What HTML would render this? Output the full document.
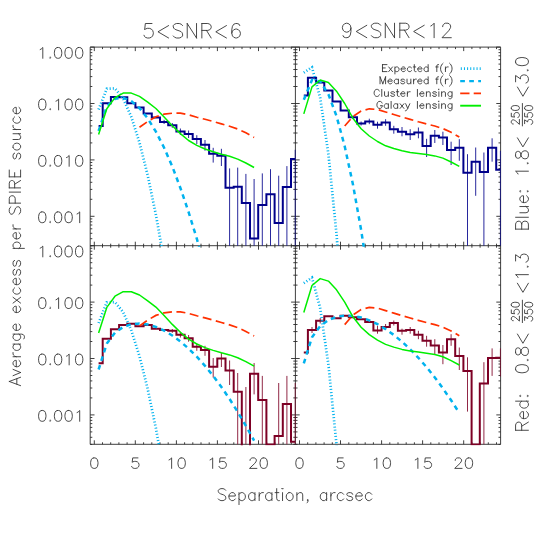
<!DOCTYPE html>
<html><head><meta charset="utf-8"><title>Average excess per SPIRE source</title>
<style>
html,body{margin:0;padding:0;background:#ffffff;}
body{width:540px;height:540px;overflow:hidden;font-family:"Liberation Sans",sans-serif;}
svg{display:block;}
</style></head><body>
<svg width="540" height="540" viewBox="0 0 540 540">
<defs>
<clipPath id="cTL"><rect x="90.2" y="47.1" width="205.8" height="199.6"/></clipPath>
<clipPath id="cTR"><rect x="295.4" y="47.1" width="205.8" height="199.6"/></clipPath>
<clipPath id="cBL"><rect x="90.2" y="245.7" width="205.8" height="199.6"/></clipPath>
<clipPath id="cBR"><rect x="295.4" y="245.7" width="205.8" height="199.6"/></clipPath>
</defs>
<path d="M90.2 47.1H500.6V444.3H90.2ZM295.4 47.1V444.3M90.2 245.7H500.6M94.3 47.1v4.0M94.3 241.7v8.0M94.3 444.3v-4.0M102.5 47.1v2.0M102.5 243.7v4.0M102.5 444.3v-2.0M110.7 47.1v2.0M110.7 243.7v4.0M110.7 444.3v-2.0M118.9 47.1v2.0M118.9 243.7v4.0M118.9 444.3v-2.0M127.1 47.1v2.0M127.1 243.7v4.0M127.1 444.3v-2.0M135.3 47.1v4.0M135.3 241.7v8.0M135.3 444.3v-4.0M143.6 47.1v2.0M143.6 243.7v4.0M143.6 444.3v-2.0M151.8 47.1v2.0M151.8 243.7v4.0M151.8 444.3v-2.0M160.0 47.1v2.0M160.0 243.7v4.0M160.0 444.3v-2.0M168.2 47.1v2.0M168.2 243.7v4.0M168.2 444.3v-2.0M176.4 47.1v4.0M176.4 241.7v8.0M176.4 444.3v-4.0M184.6 47.1v2.0M184.6 243.7v4.0M184.6 444.3v-2.0M192.8 47.1v2.0M192.8 243.7v4.0M192.8 444.3v-2.0M201.0 47.1v2.0M201.0 243.7v4.0M201.0 444.3v-2.0M209.2 47.1v2.0M209.2 243.7v4.0M209.2 444.3v-2.0M217.4 47.1v4.0M217.4 241.7v8.0M217.4 444.3v-4.0M225.6 47.1v2.0M225.6 243.7v4.0M225.6 444.3v-2.0M233.8 47.1v2.0M233.8 243.7v4.0M233.8 444.3v-2.0M242.0 47.1v2.0M242.0 243.7v4.0M242.0 444.3v-2.0M250.3 47.1v2.0M250.3 243.7v4.0M250.3 444.3v-2.0M258.5 47.1v4.0M258.5 241.7v8.0M258.5 444.3v-4.0M266.7 47.1v2.0M266.7 243.7v4.0M266.7 444.3v-2.0M274.9 47.1v2.0M274.9 243.7v4.0M274.9 444.3v-2.0M283.1 47.1v2.0M283.1 243.7v4.0M283.1 444.3v-2.0M291.3 47.1v2.0M291.3 243.7v4.0M291.3 444.3v-2.0M299.5 47.1v4.0M299.5 241.7v8.0M299.5 444.3v-4.0M307.7 47.1v2.0M307.7 243.7v4.0M307.7 444.3v-2.0M315.9 47.1v2.0M315.9 243.7v4.0M315.9 444.3v-2.0M324.1 47.1v2.0M324.1 243.7v4.0M324.1 444.3v-2.0M332.3 47.1v2.0M332.3 243.7v4.0M332.3 444.3v-2.0M340.5 47.1v4.0M340.5 241.7v8.0M340.5 444.3v-4.0M348.8 47.1v2.0M348.8 243.7v4.0M348.8 444.3v-2.0M357.0 47.1v2.0M357.0 243.7v4.0M357.0 444.3v-2.0M365.2 47.1v2.0M365.2 243.7v4.0M365.2 444.3v-2.0M373.4 47.1v2.0M373.4 243.7v4.0M373.4 444.3v-2.0M381.6 47.1v4.0M381.6 241.7v8.0M381.6 444.3v-4.0M389.8 47.1v2.0M389.8 243.7v4.0M389.8 444.3v-2.0M398.0 47.1v2.0M398.0 243.7v4.0M398.0 444.3v-2.0M406.2 47.1v2.0M406.2 243.7v4.0M406.2 444.3v-2.0M414.4 47.1v2.0M414.4 243.7v4.0M414.4 444.3v-2.0M422.6 47.1v4.0M422.6 241.7v8.0M422.6 444.3v-4.0M430.8 47.1v2.0M430.8 243.7v4.0M430.8 444.3v-2.0M439.0 47.1v2.0M439.0 243.7v4.0M439.0 444.3v-2.0M447.2 47.1v2.0M447.2 243.7v4.0M447.2 444.3v-2.0M455.5 47.1v2.0M455.5 243.7v4.0M455.5 444.3v-2.0M463.7 47.1v4.0M463.7 241.7v8.0M463.7 444.3v-4.0M471.9 47.1v2.0M471.9 243.7v4.0M471.9 444.3v-2.0M480.1 47.1v2.0M480.1 243.7v4.0M480.1 444.3v-2.0M488.3 47.1v2.0M488.3 243.7v4.0M488.3 444.3v-2.0M496.5 47.1v2.0M496.5 243.7v4.0M496.5 444.3v-2.0M90.2 47.1h4.3M291.1 47.1h8.6M500.6 47.1h-4.3M90.2 103.5h4.3M291.1 103.5h8.6M500.6 103.5h-4.3M90.2 86.5h2.1M293.3 86.5h4.2M500.6 86.5h-2.1M90.2 76.6h2.1M293.3 76.6h4.2M500.6 76.6h-2.1M90.2 69.5h2.1M293.3 69.5h4.2M500.6 69.5h-2.1M90.2 64.1h2.1M293.3 64.1h4.2M500.6 64.1h-2.1M90.2 59.6h2.1M293.3 59.6h4.2M500.6 59.6h-2.1M90.2 55.8h2.1M293.3 55.8h4.2M500.6 55.8h-2.1M90.2 52.6h2.1M293.3 52.6h4.2M500.6 52.6h-2.1M90.2 49.7h2.1M293.3 49.7h4.2M500.6 49.7h-2.1M90.2 159.9h4.3M291.1 159.9h8.6M500.6 159.9h-4.3M90.2 142.9h2.1M293.3 142.9h4.2M500.6 142.9h-2.1M90.2 133.0h2.1M293.3 133.0h4.2M500.6 133.0h-2.1M90.2 125.9h2.1M293.3 125.9h4.2M500.6 125.9h-2.1M90.2 120.5h2.1M293.3 120.5h4.2M500.6 120.5h-2.1M90.2 116.0h2.1M293.3 116.0h4.2M500.6 116.0h-2.1M90.2 112.2h2.1M293.3 112.2h4.2M500.6 112.2h-2.1M90.2 109.0h2.1M293.3 109.0h4.2M500.6 109.0h-2.1M90.2 106.1h2.1M293.3 106.1h4.2M500.6 106.1h-2.1M90.2 216.3h4.3M291.1 216.3h8.6M500.6 216.3h-4.3M90.2 199.3h2.1M293.3 199.3h4.2M500.6 199.3h-2.1M90.2 189.4h2.1M293.3 189.4h4.2M500.6 189.4h-2.1M90.2 182.3h2.1M293.3 182.3h4.2M500.6 182.3h-2.1M90.2 176.9h2.1M293.3 176.9h4.2M500.6 176.9h-2.1M90.2 172.4h2.1M293.3 172.4h4.2M500.6 172.4h-2.1M90.2 168.6h2.1M293.3 168.6h4.2M500.6 168.6h-2.1M90.2 165.4h2.1M293.3 165.4h4.2M500.6 165.4h-2.1M90.2 162.5h2.1M293.3 162.5h4.2M500.6 162.5h-2.1M90.2 245.8h2.1M293.3 245.8h4.2M500.6 245.8h-2.1M90.2 238.7h2.1M293.3 238.7h4.2M500.6 238.7h-2.1M90.2 233.3h2.1M293.3 233.3h4.2M500.6 233.3h-2.1M90.2 228.8h2.1M293.3 228.8h4.2M500.6 228.8h-2.1M90.2 225.0h2.1M293.3 225.0h4.2M500.6 225.0h-2.1M90.2 221.8h2.1M293.3 221.8h4.2M500.6 221.8h-2.1M90.2 218.9h2.1M293.3 218.9h4.2M500.6 218.9h-2.1M90.2 245.7h4.3M291.1 245.7h8.6M500.6 245.7h-4.3M90.2 302.1h4.3M291.1 302.1h8.6M500.6 302.1h-4.3M90.2 285.1h2.1M293.3 285.1h4.2M500.6 285.1h-2.1M90.2 275.2h2.1M293.3 275.2h4.2M500.6 275.2h-2.1M90.2 268.1h2.1M293.3 268.1h4.2M500.6 268.1h-2.1M90.2 262.7h2.1M293.3 262.7h4.2M500.6 262.7h-2.1M90.2 258.2h2.1M293.3 258.2h4.2M500.6 258.2h-2.1M90.2 254.4h2.1M293.3 254.4h4.2M500.6 254.4h-2.1M90.2 251.2h2.1M293.3 251.2h4.2M500.6 251.2h-2.1M90.2 248.3h2.1M293.3 248.3h4.2M500.6 248.3h-2.1M90.2 358.5h4.3M291.1 358.5h8.6M500.6 358.5h-4.3M90.2 341.5h2.1M293.3 341.5h4.2M500.6 341.5h-2.1M90.2 331.6h2.1M293.3 331.6h4.2M500.6 331.6h-2.1M90.2 324.5h2.1M293.3 324.5h4.2M500.6 324.5h-2.1M90.2 319.1h2.1M293.3 319.1h4.2M500.6 319.1h-2.1M90.2 314.6h2.1M293.3 314.6h4.2M500.6 314.6h-2.1M90.2 310.8h2.1M293.3 310.8h4.2M500.6 310.8h-2.1M90.2 307.6h2.1M293.3 307.6h4.2M500.6 307.6h-2.1M90.2 304.7h2.1M293.3 304.7h4.2M500.6 304.7h-2.1M90.2 414.9h4.3M291.1 414.9h8.6M500.6 414.9h-4.3M90.2 397.9h2.1M293.3 397.9h4.2M500.6 397.9h-2.1M90.2 388.0h2.1M293.3 388.0h4.2M500.6 388.0h-2.1M90.2 380.9h2.1M293.3 380.9h4.2M500.6 380.9h-2.1M90.2 375.5h2.1M293.3 375.5h4.2M500.6 375.5h-2.1M90.2 371.0h2.1M293.3 371.0h4.2M500.6 371.0h-2.1M90.2 367.2h2.1M293.3 367.2h4.2M500.6 367.2h-2.1M90.2 364.0h2.1M293.3 364.0h4.2M500.6 364.0h-2.1M90.2 361.1h2.1M293.3 361.1h4.2M500.6 361.1h-2.1M90.2 444.4h2.1M293.3 444.4h4.2M500.6 444.4h-2.1M90.2 437.3h2.1M293.3 437.3h4.2M500.6 437.3h-2.1M90.2 431.9h2.1M293.3 431.9h4.2M500.6 431.9h-2.1M90.2 427.4h2.1M293.3 427.4h4.2M500.6 427.4h-2.1M90.2 423.6h2.1M293.3 423.6h4.2M500.6 423.6h-2.1M90.2 420.4h2.1M293.3 420.4h4.2M500.6 420.4h-2.1M90.2 417.5h2.1M293.3 417.5h4.2M500.6 417.5h-2.1" stroke="#2a2a2a" stroke-width="0.9" fill="none"/>
<g clip-path="url(#cTL)" fill="none">
<path d="M164.1 119.8V124.0M172.3 123.0V127.8M180.4 128.5V135.0M188.6 130.5V138.0M196.8 135.2V144.0M205.0 140.0V150.7M213.2 147.8V162.6M221.4 148.8V166.0M229.6 168.4V245.7M237.7 167.6V245.7M245.9 173.9V245.7M254.1 179.0V245.7M262.3 173.4V245.7M270.5 169.2V245.7M278.7 175.7V245.7M286.9 166.1V245.7" stroke="#00008b" stroke-width="0.85" opacity="1"/>
<path d="M98.6 126.0 L102.7 126.0 L102.7 103.3 L110.9 103.3 L110.9 97.1 L119.1 97.1 L119.1 97.3 L127.3 97.3 L127.3 103.3 L135.4 103.3 L135.4 107.5 L143.6 107.5 L143.6 113.4 L151.8 113.4 L151.8 117.4 L160.0 117.4 L160.0 121.9 L168.2 121.9 L168.2 125.3 L176.4 125.3 L176.4 131.5 L184.6 131.5 L184.6 134.1 L192.7 134.1 L192.7 138.9 L200.9 138.9 L200.9 144.8 L209.1 144.8 L209.1 153.7 L217.3 153.7 L217.3 155.7 L225.5 155.7 L225.5 187.8 L233.7 187.8 L233.7 186.7 L241.8 186.7 L241.8 202.9 L250.0 202.9 L250.0 238.6 L258.2 238.6 L258.2 204.9 L266.4 204.9 L266.4 194.3 L274.6 194.3 L274.6 223.1 L282.8 223.1 L282.8 187.0 L291.0 187.0 L291.0 159.1 L295.0 159.1" stroke="#00008b" stroke-width="2.0" stroke-linejoin="miter"/>
<path d="M98.6 109.5 L106.8 88.7 L115.0 88.4 L123.2 98.6 L131.3 116.9 L139.5 142.6 L147.7 175.3 L155.9 214.7 L164.1 260.6 L172.3 313.0" stroke="#00b2ee" stroke-width="2.7" stroke-dasharray="1.05 2.1"/>
<path d="M98.6 131.0 L106.8 106.5 L115.0 98.8 L123.2 97.7 L131.3 101.1 L139.5 108.2 L147.7 118.4 L155.9 131.7 L164.1 147.7 L172.3 166.5 L180.4 188.0 L188.6 212.1 L196.8 238.7 L205.0 267.9 L213.2 299.7 L221.4 333.9" stroke="#00b2ee" stroke-width="2.5" stroke-dasharray="4.7 4.3"/>
<path d="M139.5 127.3 L147.7 121.5 L155.9 116.8 L164.1 114.2 L172.3 113.2 L180.4 113.2 L188.6 114.8 L196.8 117.2 L205.0 119.3 L213.2 121.5 L221.4 123.9 L229.6 126.3 L237.7 129.0 L245.9 132.8 L254.1 137.4" stroke="#ff3000" stroke-width="1.7" stroke-dasharray="9 4.5"/>
<path d="M98.6 134.4 L106.8 108.8 L115.0 97.6 L123.2 93.1 L131.3 93.1 L139.5 96.4 L147.7 102.2 L155.9 108.5 L164.1 117.0 L172.3 125.8 L180.4 133.6 L188.6 140.5 L196.8 145.4 L205.0 149.0 L213.2 151.8 L221.4 154.2 L229.6 156.3 L237.7 159.1 L245.9 163.0 L254.1 167.5" stroke="#00ee00" stroke-width="1.5" stroke-linejoin="round"/>
</g>
<g clip-path="url(#cTR)" fill="none">
<path d="M352.9 115.5V119.0M361.1 121.5V125.5M369.3 118.7V124.2M377.5 121.7V128.7M385.6 119.2V125.8M393.8 125.8V133.7M402.0 127.0V136.3M410.2 129.2V140.0M418.4 127.5V138.3M426.6 138.8V157.0M434.8 130.0V143.0M442.9 131.7V145.0M451.1 141.7V165.0M459.3 139.2V160.8M467.5 154.2V245.7M475.7 147.5V195.8M483.9 152.5V245.7M492.1 138.3V161.7" stroke="#00008b" stroke-width="0.85" opacity="1"/>
<path d="M303.8 95.6 L307.9 95.6 L307.9 77.8 L316.1 77.8 L316.1 82.6 L324.3 82.6 L324.3 90.5 L332.5 90.5 L332.5 101.4 L340.6 101.4 L340.6 110.5 L348.8 110.5 L348.8 117.2 L357.0 117.2 L357.0 123.5 L365.2 123.5 L365.2 121.4 L373.4 121.4 L373.4 124.7 L381.6 124.7 L381.6 122.5 L389.8 122.5 L389.8 129.2 L397.9 129.2 L397.9 131.7 L406.1 131.7 L406.1 134.2 L414.3 134.2 L414.3 132.5 L422.5 132.5 L422.5 146.0 L430.7 146.0 L430.7 135.8 L438.9 135.8 L438.9 137.5 L447.0 137.5 L447.0 150.0 L455.2 150.0 L455.2 147.8 L463.4 147.8 L463.4 172.8 L471.6 172.8 L471.6 161.7 L479.8 161.7 L479.8 172.0 L488.0 172.0 L488.0 147.8 L496.2 147.8 L496.2 169.7 L500.2 169.7" stroke="#00008b" stroke-width="2.0" stroke-linejoin="miter"/>
<path d="M303.8 72.7 L312.0 67.3 L320.2 97.9 L328.4 154.1 L336.5 234.0 L344.7 336.7" stroke="#00b2ee" stroke-width="2.7" stroke-dasharray="1.05 2.1"/>
<path d="M303.8 99.8 L312.0 79.9 L320.2 81.4 L328.4 94.2 L336.5 116.1 L344.7 146.2 L352.9 184.2 L361.1 229.8 L369.3 282.8 L377.5 343.2" stroke="#00b2ee" stroke-width="2.5" stroke-dasharray="4.7 4.3"/>
<path d="M344.7 126.0 L352.9 116.5 L361.1 111.0 L369.3 108.8 L377.5 109.5 L385.6 112.0 L393.8 114.5 L402.0 117.0 L410.2 119.4 L418.4 121.8 L426.6 124.0 L434.8 126.0 L442.9 128.6 L451.1 132.3 L459.3 137.1" stroke="#ff3000" stroke-width="1.7" stroke-dasharray="9 4.5"/>
<path d="M303.8 113.9 L312.0 86.9 L320.2 80.0 L328.4 82.5 L336.5 91.2 L344.7 103.5 L352.9 118.2 L361.1 128.7 L369.3 136.0 L377.5 141.5 L385.6 145.8 L393.8 148.5 L402.0 150.8 L410.2 152.4 L418.4 153.5 L426.6 154.6 L434.8 155.9 L442.9 158.1 L451.1 162.0 L459.3 166.4" stroke="#00ee00" stroke-width="1.5" stroke-linejoin="round"/>
</g>
<g clip-path="url(#cBL)" fill="none">
<path d="M172.3 329.0V332.8M180.4 331.7V337.5M188.6 335.0V341.7M196.8 343.3V350.8M205.0 345.8V355.8M213.2 358.0V377.6M221.4 353.0V367.0M229.6 360.5V385.0M237.7 373.0V444.3M245.9 387.0V444.3M254.1 363.0V394.4M262.3 375.9V444.3M278.7 383.0V444.3M286.9 375.9V444.3" stroke="#7d0025" stroke-width="0.85" opacity="1"/>
<path d="M98.6 363.3 L102.7 363.3 L102.7 338.8 L110.9 338.8 L110.9 329.2 L119.1 329.2 L119.1 325.0 L127.3 325.0 L127.3 323.7 L135.4 323.7 L135.4 326.2 L143.6 326.2 L143.6 325.0 L151.8 325.0 L151.8 328.8 L160.0 328.8 L160.0 330.0 L168.2 330.0 L168.2 330.8 L176.4 330.8 L176.4 334.7 L184.6 334.7 L184.6 338.3 L192.7 338.3 L192.7 346.7 L200.9 346.7 L200.9 350.0 L209.1 350.0 L209.1 366.7 L217.3 366.7 L217.3 358.6 L225.5 358.6 L225.5 370.4 L233.7 370.4 L233.7 391.7 L241.8 391.7 L241.8 452.0 L250.0 452.0 L250.0 373.7 L258.2 373.7 L258.2 400.0 L266.4 400.0 L266.4 444.4 L274.6 444.4 L274.6 436.1 L282.8 436.1 L282.8 404.1 L291.0 404.1 L291.0 441.7 L295.0 441.7" stroke="#7d0025" stroke-width="2.0" stroke-linejoin="miter"/>
<path d="M98.6 323.1 L106.8 302.3 L115.0 302.1 L123.2 312.2 L131.3 330.5 L139.5 356.3 L147.7 388.9 L155.9 428.3 L164.1 474.2 L172.3 526.6" stroke="#00b2ee" stroke-width="2.7" stroke-dasharray="1.05 2.1"/>
<path d="M98.6 369.5 L106.8 343.5 L115.0 332.7 L123.2 327.0 L131.3 324.2 L139.5 323.5 L147.7 324.5 L155.9 326.9 L164.1 330.6 L172.3 335.5 L180.4 341.5 L188.6 348.6 L196.8 356.7 L205.0 365.8 L213.2 375.9 L221.4 387.0 L229.6 399.0 L237.7 411.9 L245.9 425.8 L254.1 440.6" stroke="#00b2ee" stroke-width="2.5" stroke-dasharray="4.7 4.3"/>
<path d="M139.5 325.9 L147.7 320.1 L155.9 315.4 L164.1 312.8 L172.3 311.8 L180.4 311.8 L188.6 313.4 L196.8 315.8 L205.0 317.9 L213.2 320.1 L221.4 322.5 L229.6 324.9 L237.7 327.6 L245.9 331.4 L254.1 336.0" stroke="#ff3000" stroke-width="1.7" stroke-dasharray="9 4.5"/>
<path d="M98.6 333.0 L106.8 307.4 L115.0 296.2 L123.2 291.7 L131.3 291.7 L139.5 295.0 L147.7 300.8 L155.9 307.1 L164.1 315.6 L172.3 324.4 L180.4 332.2 L188.6 339.1 L196.8 344.0 L205.0 347.6 L213.2 350.4 L221.4 352.8 L229.6 354.9 L237.7 357.7 L245.9 361.6 L254.1 366.1" stroke="#00ee00" stroke-width="1.5" stroke-linejoin="round"/>
</g>
<g clip-path="url(#cBR)" fill="none">
<path d="M312.0 327.0V333.0M320.2 318.0V323.5M377.5 325.8V333.7M385.6 324.0V330.0M393.8 320.5V325.5M402.0 328.7V334.7M410.2 327.0V333.7M418.4 330.8V339.2M426.6 335.8V346.7M434.8 339.2V354.2M442.9 345.0V364.2M451.1 334.2V345.8M459.3 347.5V370.0M467.5 357.3V411.6M483.9 362.2V444.3M492.1 348.4V375.9" stroke="#7d0025" stroke-width="0.85" opacity="1"/>
<path d="M303.8 352.5 L307.9 352.5 L307.9 330.0 L316.1 330.0 L316.1 320.8 L324.3 320.8 L324.3 316.2 L332.5 316.2 L332.5 318.3 L340.6 318.3 L340.6 315.8 L348.8 315.8 L348.8 317.2 L357.0 317.2 L357.0 319.2 L365.2 319.2 L365.2 322.0 L373.4 322.0 L373.4 330.5 L381.6 330.5 L381.6 327.0 L389.8 327.0 L389.8 323.0 L397.9 323.0 L397.9 330.8 L406.1 330.8 L406.1 330.0 L414.3 330.0 L414.3 334.7 L422.5 334.7 L422.5 340.8 L430.7 340.8 L430.7 345.5 L438.9 345.5 L438.9 352.5 L447.0 352.5 L447.0 339.2 L455.2 339.2 L455.2 356.0 L463.4 356.0 L463.4 371.1 L471.6 371.1 L471.6 444.4 L479.8 444.4 L479.8 383.4 L488.0 383.4 L488.0 358.1 L496.2 358.1 L496.2 357.8 L500.2 357.8" stroke="#7d0025" stroke-width="2.0" stroke-linejoin="miter"/>
<path d="M303.8 283.1 L312.0 277.7 L320.2 308.2 L328.4 364.5 L336.5 444.4 L344.7 547.0" stroke="#00b2ee" stroke-width="2.7" stroke-dasharray="1.05 2.1"/>
<path d="M303.8 363.3 L312.0 337.2 L320.2 326.1 L328.4 320.1 L336.5 316.8 L344.7 315.6 L352.9 315.9 L361.1 317.5 L369.3 320.3 L377.5 324.2 L385.6 329.1 L393.8 334.9 L402.0 341.7 L410.2 349.3 L418.4 357.8 L426.6 367.2 L434.8 377.4 L442.9 388.4 L451.1 400.3 L459.3 412.9" stroke="#00b2ee" stroke-width="2.5" stroke-dasharray="4.7 4.3"/>
<path d="M344.7 324.6 L352.9 315.1 L361.1 309.6 L369.3 307.4 L377.5 308.1 L385.6 310.6 L393.8 313.1 L402.0 315.6 L410.2 318.0 L418.4 320.4 L426.6 322.6 L434.8 324.6 L442.9 327.2 L451.1 330.9 L459.3 335.7" stroke="#ff3000" stroke-width="1.7" stroke-dasharray="9 4.5"/>
<path d="M303.8 312.5 L312.0 285.5 L320.2 278.6 L328.4 281.1 L336.5 289.8 L344.7 302.1 L352.9 316.8 L361.1 327.3 L369.3 334.6 L377.5 340.1 L385.6 344.4 L393.8 347.1 L402.0 349.4 L410.2 351.0 L418.4 352.1 L426.6 353.2 L434.8 354.5 L442.9 356.7 L451.1 360.6 L459.3 365.0" stroke="#00ee00" stroke-width="1.5" stroke-linejoin="round"/>
</g>
<path d="M295.2 149.8V245.7" stroke="#00008b" stroke-width="1.0" opacity="0.7" fill="none"/>
<path d="M500.4 150.8V245.7" stroke="#00008b" stroke-width="1.0" opacity="0.7" fill="none"/>
<path d="M295.2 383.0V444.3" stroke="#7d0025" stroke-width="1.0" opacity="0.7" fill="none"/>
<path d="M500.4 348.4V376.5" stroke="#7d0025" stroke-width="1.0" opacity="0.7" fill="none"/>
<g fill="none" stroke="#343434" stroke-width="0.90" stroke-linecap="round" stroke-linejoin="round">
<path transform="translate(142.00 38.00)" d="M9.98 -14.49L3.33 -14.49L2.66 -8.28L3.33 -8.97L5.32 -9.66L7.32 -9.66L9.31 -8.97L10.64 -7.59L11.30 -5.52L11.30 -4.14L10.64 -2.07L9.31 -0.69L7.32 -0.00L5.32 -0.00L3.33 -0.69L2.66 -1.38L2.00 -2.76M26.60 -12.42L15.96 -6.21L26.60 -0.00M40.57 -12.42L39.23 -13.80L37.24 -14.49L34.58 -14.49L32.59 -13.80L31.26 -12.42L31.26 -11.04L31.92 -9.66L32.59 -8.97L33.91 -8.28L37.91 -6.90L39.23 -6.21L39.90 -5.52L40.57 -4.14L40.57 -2.07L39.23 -0.69L37.24 -0.00L34.58 -0.00L32.59 -0.69L31.26 -2.07M45.22 -14.49L45.22 -0.00M45.22 -14.49L54.53 -0.00M54.53 -14.49L54.53 -0.00M59.85 -14.49L59.85 -0.00M59.85 -14.49L65.84 -14.49L67.83 -13.80L68.50 -13.11L69.16 -11.73L69.16 -10.35L68.50 -8.97L67.83 -8.28L65.84 -7.59L59.85 -7.59M64.51 -7.59L69.16 -0.00M84.45 -12.42L73.81 -6.21L84.45 -0.00M97.76 -12.42L97.09 -13.80L95.09 -14.49L93.77 -14.49L91.77 -13.80L90.44 -11.73L89.78 -8.28L89.78 -4.83L90.44 -2.07L91.77 -0.69L93.77 -0.00L94.43 -0.00L96.43 -0.69L97.76 -2.07L98.42 -4.14L98.42 -4.83L97.76 -6.90L96.43 -8.28L94.43 -8.97L93.77 -8.97L91.77 -8.28L90.44 -6.90L89.78 -4.83"/>
<path transform="translate(340.40 37.70)" d="M10.56 -9.66L9.90 -7.59L8.58 -6.21L6.60 -5.52L5.94 -5.52L3.96 -6.21L2.64 -7.59L1.98 -9.66L1.98 -10.35L2.64 -12.42L3.96 -13.80L5.94 -14.49L6.60 -14.49L8.58 -13.80L9.90 -12.42L10.56 -9.66L10.56 -6.21L9.90 -2.76L8.58 -0.69L6.60 -0.00L5.28 -0.00L3.30 -0.69L2.64 -2.07M26.40 -12.42L15.84 -6.21L26.40 -0.00M40.26 -12.42L38.94 -13.80L36.96 -14.49L34.32 -14.49L32.34 -13.80L31.02 -12.42L31.02 -11.04L31.68 -9.66L32.34 -8.97L33.66 -8.28L37.62 -6.90L38.94 -6.21L39.60 -5.52L40.26 -4.14L40.26 -2.07L38.94 -0.69L36.96 -0.00L34.32 -0.00L32.34 -0.69L31.02 -2.07M44.88 -14.49L44.88 -0.00M44.88 -14.49L54.12 -0.00M54.12 -14.49L54.12 -0.00M59.40 -14.49L59.40 -0.00M59.40 -14.49L65.34 -14.49L67.32 -13.80L67.98 -13.11L68.64 -11.73L68.64 -10.35L67.98 -8.97L67.32 -8.28L65.34 -7.59L59.40 -7.59M64.02 -7.59L68.64 -0.00M83.82 -12.42L73.26 -6.21L83.82 -0.00M90.42 -11.73L91.74 -12.42L93.72 -14.49L93.72 -0.00M102.30 -11.04L102.30 -11.73L102.96 -13.11L103.62 -13.80L104.94 -14.49L107.58 -14.49L108.90 -13.80L109.56 -13.11L110.22 -11.73L110.22 -10.35L109.56 -8.97L108.24 -6.90L101.64 -0.00L110.88 -0.00"/>
<path transform="translate(37.00 58.30)" d="M3.16 -8.76L4.22 -9.27L5.80 -10.81L5.80 -0.00M13.18 -1.03L12.65 -0.52L13.18 -0.00L13.70 -0.52L13.18 -1.03M20.55 -10.81L18.97 -10.30L17.92 -8.76L17.39 -6.18L17.39 -4.63L17.92 -2.06L18.97 -0.52L20.55 -0.00L21.61 -0.00L23.19 -0.52L24.24 -2.06L24.77 -4.63L24.77 -6.18L24.24 -8.76L23.19 -10.30L21.61 -10.81L20.55 -10.81M31.09 -10.81L29.51 -10.30L28.46 -8.76L27.93 -6.18L27.93 -4.63L28.46 -2.06L29.51 -0.52L31.09 -0.00L32.15 -0.00L33.73 -0.52L34.78 -2.06L35.31 -4.63L35.31 -6.18L34.78 -8.76L33.73 -10.30L32.15 -10.81L31.09 -10.81M41.63 -10.81L40.05 -10.30L39.00 -8.76L38.47 -6.18L38.47 -4.63L39.00 -2.06L40.05 -0.52L41.63 -0.00L42.69 -0.00L44.27 -0.52L45.32 -2.06L45.85 -4.63L45.85 -6.18L45.32 -8.76L44.27 -10.30L42.69 -10.81L41.63 -10.81"/>
<path transform="translate(37.00 109.90)" d="M4.74 -10.81L3.16 -10.30L2.11 -8.76L1.58 -6.18L1.58 -4.63L2.11 -2.06L3.16 -0.52L4.74 -0.00L5.80 -0.00L7.38 -0.52L8.43 -2.06L8.96 -4.63L8.96 -6.18L8.43 -8.76L7.38 -10.30L5.80 -10.81L4.74 -10.81M13.18 -1.03L12.65 -0.52L13.18 -0.00L13.70 -0.52L13.18 -1.03M18.97 -8.76L20.03 -9.27L21.61 -10.81L21.61 -0.00M31.09 -10.81L29.51 -10.30L28.46 -8.76L27.93 -6.18L27.93 -4.63L28.46 -2.06L29.51 -0.52L31.09 -0.00L32.15 -0.00L33.73 -0.52L34.78 -2.06L35.31 -4.63L35.31 -6.18L34.78 -8.76L33.73 -10.30L32.15 -10.81L31.09 -10.81M41.63 -10.81L40.05 -10.30L39.00 -8.76L38.47 -6.18L38.47 -4.63L39.00 -2.06L40.05 -0.52L41.63 -0.00L42.69 -0.00L44.27 -0.52L45.32 -2.06L45.85 -4.63L45.85 -6.18L45.32 -8.76L44.27 -10.30L42.69 -10.81L41.63 -10.81"/>
<path transform="translate(37.00 166.30)" d="M4.74 -10.81L3.16 -10.30L2.11 -8.76L1.58 -6.18L1.58 -4.63L2.11 -2.06L3.16 -0.52L4.74 -0.00L5.80 -0.00L7.38 -0.52L8.43 -2.06L8.96 -4.63L8.96 -6.18L8.43 -8.76L7.38 -10.30L5.80 -10.81L4.74 -10.81M13.18 -1.03L12.65 -0.52L13.18 -0.00L13.70 -0.52L13.18 -1.03M20.55 -10.81L18.97 -10.30L17.92 -8.76L17.39 -6.18L17.39 -4.63L17.92 -2.06L18.97 -0.52L20.55 -0.00L21.61 -0.00L23.19 -0.52L24.24 -2.06L24.77 -4.63L24.77 -6.18L24.24 -8.76L23.19 -10.30L21.61 -10.81L20.55 -10.81M29.51 -8.76L30.57 -9.27L32.15 -10.81L32.15 -0.00M41.63 -10.81L40.05 -10.30L39.00 -8.76L38.47 -6.18L38.47 -4.63L39.00 -2.06L40.05 -0.52L41.63 -0.00L42.69 -0.00L44.27 -0.52L45.32 -2.06L45.85 -4.63L45.85 -6.18L45.32 -8.76L44.27 -10.30L42.69 -10.81L41.63 -10.81"/>
<path transform="translate(37.00 222.70)" d="M4.74 -10.81L3.16 -10.30L2.11 -8.76L1.58 -6.18L1.58 -4.63L2.11 -2.06L3.16 -0.52L4.74 -0.00L5.80 -0.00L7.38 -0.52L8.43 -2.06L8.96 -4.63L8.96 -6.18L8.43 -8.76L7.38 -10.30L5.80 -10.81L4.74 -10.81M13.18 -1.03L12.65 -0.52L13.18 -0.00L13.70 -0.52L13.18 -1.03M20.55 -10.81L18.97 -10.30L17.92 -8.76L17.39 -6.18L17.39 -4.63L17.92 -2.06L18.97 -0.52L20.55 -0.00L21.61 -0.00L23.19 -0.52L24.24 -2.06L24.77 -4.63L24.77 -6.18L24.24 -8.76L23.19 -10.30L21.61 -10.81L20.55 -10.81M31.09 -10.81L29.51 -10.30L28.46 -8.76L27.93 -6.18L27.93 -4.63L28.46 -2.06L29.51 -0.52L31.09 -0.00L32.15 -0.00L33.73 -0.52L34.78 -2.06L35.31 -4.63L35.31 -6.18L34.78 -8.76L33.73 -10.30L32.15 -10.81L31.09 -10.81M40.05 -8.76L41.11 -9.27L42.69 -10.81L42.69 -0.00"/>
<path transform="translate(37.00 256.90)" d="M3.16 -8.76L4.22 -9.27L5.80 -10.81L5.80 -0.00M13.18 -1.03L12.65 -0.52L13.18 -0.00L13.70 -0.52L13.18 -1.03M20.55 -10.81L18.97 -10.30L17.92 -8.76L17.39 -6.18L17.39 -4.63L17.92 -2.06L18.97 -0.52L20.55 -0.00L21.61 -0.00L23.19 -0.52L24.24 -2.06L24.77 -4.63L24.77 -6.18L24.24 -8.76L23.19 -10.30L21.61 -10.81L20.55 -10.81M31.09 -10.81L29.51 -10.30L28.46 -8.76L27.93 -6.18L27.93 -4.63L28.46 -2.06L29.51 -0.52L31.09 -0.00L32.15 -0.00L33.73 -0.52L34.78 -2.06L35.31 -4.63L35.31 -6.18L34.78 -8.76L33.73 -10.30L32.15 -10.81L31.09 -10.81M41.63 -10.81L40.05 -10.30L39.00 -8.76L38.47 -6.18L38.47 -4.63L39.00 -2.06L40.05 -0.52L41.63 -0.00L42.69 -0.00L44.27 -0.52L45.32 -2.06L45.85 -4.63L45.85 -6.18L45.32 -8.76L44.27 -10.30L42.69 -10.81L41.63 -10.81"/>
<path transform="translate(37.00 308.50)" d="M4.74 -10.81L3.16 -10.30L2.11 -8.76L1.58 -6.18L1.58 -4.63L2.11 -2.06L3.16 -0.52L4.74 -0.00L5.80 -0.00L7.38 -0.52L8.43 -2.06L8.96 -4.63L8.96 -6.18L8.43 -8.76L7.38 -10.30L5.80 -10.81L4.74 -10.81M13.18 -1.03L12.65 -0.52L13.18 -0.00L13.70 -0.52L13.18 -1.03M18.97 -8.76L20.03 -9.27L21.61 -10.81L21.61 -0.00M31.09 -10.81L29.51 -10.30L28.46 -8.76L27.93 -6.18L27.93 -4.63L28.46 -2.06L29.51 -0.52L31.09 -0.00L32.15 -0.00L33.73 -0.52L34.78 -2.06L35.31 -4.63L35.31 -6.18L34.78 -8.76L33.73 -10.30L32.15 -10.81L31.09 -10.81M41.63 -10.81L40.05 -10.30L39.00 -8.76L38.47 -6.18L38.47 -4.63L39.00 -2.06L40.05 -0.52L41.63 -0.00L42.69 -0.00L44.27 -0.52L45.32 -2.06L45.85 -4.63L45.85 -6.18L45.32 -8.76L44.27 -10.30L42.69 -10.81L41.63 -10.81"/>
<path transform="translate(37.00 364.90)" d="M4.74 -10.81L3.16 -10.30L2.11 -8.76L1.58 -6.18L1.58 -4.63L2.11 -2.06L3.16 -0.52L4.74 -0.00L5.80 -0.00L7.38 -0.52L8.43 -2.06L8.96 -4.63L8.96 -6.18L8.43 -8.76L7.38 -10.30L5.80 -10.81L4.74 -10.81M13.18 -1.03L12.65 -0.52L13.18 -0.00L13.70 -0.52L13.18 -1.03M20.55 -10.81L18.97 -10.30L17.92 -8.76L17.39 -6.18L17.39 -4.63L17.92 -2.06L18.97 -0.52L20.55 -0.00L21.61 -0.00L23.19 -0.52L24.24 -2.06L24.77 -4.63L24.77 -6.18L24.24 -8.76L23.19 -10.30L21.61 -10.81L20.55 -10.81M29.51 -8.76L30.57 -9.27L32.15 -10.81L32.15 -0.00M41.63 -10.81L40.05 -10.30L39.00 -8.76L38.47 -6.18L38.47 -4.63L39.00 -2.06L40.05 -0.52L41.63 -0.00L42.69 -0.00L44.27 -0.52L45.32 -2.06L45.85 -4.63L45.85 -6.18L45.32 -8.76L44.27 -10.30L42.69 -10.81L41.63 -10.81"/>
<path transform="translate(37.00 421.30)" d="M4.74 -10.81L3.16 -10.30L2.11 -8.76L1.58 -6.18L1.58 -4.63L2.11 -2.06L3.16 -0.52L4.74 -0.00L5.80 -0.00L7.38 -0.52L8.43 -2.06L8.96 -4.63L8.96 -6.18L8.43 -8.76L7.38 -10.30L5.80 -10.81L4.74 -10.81M13.18 -1.03L12.65 -0.52L13.18 -0.00L13.70 -0.52L13.18 -1.03M20.55 -10.81L18.97 -10.30L17.92 -8.76L17.39 -6.18L17.39 -4.63L17.92 -2.06L18.97 -0.52L20.55 -0.00L21.61 -0.00L23.19 -0.52L24.24 -2.06L24.77 -4.63L24.77 -6.18L24.24 -8.76L23.19 -10.30L21.61 -10.81L20.55 -10.81M31.09 -10.81L29.51 -10.30L28.46 -8.76L27.93 -6.18L27.93 -4.63L28.46 -2.06L29.51 -0.52L31.09 -0.00L32.15 -0.00L33.73 -0.52L34.78 -2.06L35.31 -4.63L35.31 -6.18L34.78 -8.76L33.73 -10.30L32.15 -10.81L31.09 -10.81M40.05 -8.76L41.11 -9.27L42.69 -10.81L42.69 -0.00"/>
<path transform="translate(89.03 468.40)" d="M4.74 -10.50L3.16 -10.00L2.11 -8.50L1.58 -6.00L1.58 -4.50L2.11 -2.00L3.16 -0.50L4.74 -0.00L5.80 -0.00L7.38 -0.50L8.43 -2.00L8.96 -4.50L8.96 -6.00L8.43 -8.50L7.38 -10.00L5.80 -10.50L4.74 -10.50"/>
<path transform="translate(130.07 468.40)" d="M7.91 -10.50L2.64 -10.50L2.11 -6.00L2.64 -6.50L4.22 -7.00L5.80 -7.00L7.38 -6.50L8.43 -5.50L8.96 -4.00L8.96 -3.00L8.43 -1.50L7.38 -0.50L5.80 -0.00L4.22 -0.00L2.64 -0.50L2.11 -1.00L1.58 -2.00"/>
<path transform="translate(165.84 468.40)" d="M3.16 -8.50L4.22 -9.00L5.80 -10.50L5.80 -0.00M15.28 -10.50L13.70 -10.00L12.65 -8.50L12.12 -6.00L12.12 -4.50L12.65 -2.00L13.70 -0.50L15.28 -0.00L16.34 -0.00L17.92 -0.50L18.97 -2.00L19.50 -4.50L19.50 -6.00L18.97 -8.50L17.92 -10.00L16.34 -10.50L15.28 -10.50"/>
<path transform="translate(206.88 468.40)" d="M3.16 -8.50L4.22 -9.00L5.80 -10.50L5.80 -0.00M18.45 -10.50L13.18 -10.50L12.65 -6.00L13.18 -6.50L14.76 -7.00L16.34 -7.00L17.92 -6.50L18.97 -5.50L19.50 -4.00L19.50 -3.00L18.97 -1.50L17.92 -0.50L16.34 -0.00L14.76 -0.00L13.18 -0.50L12.65 -1.00L12.12 -2.00"/>
<path transform="translate(247.92 468.40)" d="M2.11 -8.00L2.11 -8.50L2.64 -9.50L3.16 -10.00L4.22 -10.50L6.32 -10.50L7.38 -10.00L7.91 -9.50L8.43 -8.50L8.43 -7.50L7.91 -6.50L6.85 -5.00L1.58 -0.00L8.96 -0.00M15.28 -10.50L13.70 -10.00L12.65 -8.50L12.12 -6.00L12.12 -4.50L12.65 -2.00L13.70 -0.50L15.28 -0.00L16.34 -0.00L17.92 -0.50L18.97 -2.00L19.50 -4.50L19.50 -6.00L18.97 -8.50L17.92 -10.00L16.34 -10.50L15.28 -10.50"/>
<path transform="translate(294.23 468.40)" d="M4.74 -10.50L3.16 -10.00L2.11 -8.50L1.58 -6.00L1.58 -4.50L2.11 -2.00L3.16 -0.50L4.74 -0.00L5.80 -0.00L7.38 -0.50L8.43 -2.00L8.96 -4.50L8.96 -6.00L8.43 -8.50L7.38 -10.00L5.80 -10.50L4.74 -10.50"/>
<path transform="translate(335.27 468.40)" d="M7.91 -10.50L2.64 -10.50L2.11 -6.00L2.64 -6.50L4.22 -7.00L5.80 -7.00L7.38 -6.50L8.43 -5.50L8.96 -4.00L8.96 -3.00L8.43 -1.50L7.38 -0.50L5.80 -0.00L4.22 -0.00L2.64 -0.50L2.11 -1.00L1.58 -2.00"/>
<path transform="translate(371.04 468.40)" d="M3.16 -8.50L4.22 -9.00L5.80 -10.50L5.80 -0.00M15.28 -10.50L13.70 -10.00L12.65 -8.50L12.12 -6.00L12.12 -4.50L12.65 -2.00L13.70 -0.50L15.28 -0.00L16.34 -0.00L17.92 -0.50L18.97 -2.00L19.50 -4.50L19.50 -6.00L18.97 -8.50L17.92 -10.00L16.34 -10.50L15.28 -10.50"/>
<path transform="translate(412.08 468.40)" d="M3.16 -8.50L4.22 -9.00L5.80 -10.50L5.80 -0.00M18.45 -10.50L13.18 -10.50L12.65 -6.00L13.18 -6.50L14.76 -7.00L16.34 -7.00L17.92 -6.50L18.97 -5.50L19.50 -4.00L19.50 -3.00L18.97 -1.50L17.92 -0.50L16.34 -0.00L14.76 -0.00L13.18 -0.50L12.65 -1.00L12.12 -2.00"/>
<path transform="translate(453.12 468.40)" d="M2.11 -8.00L2.11 -8.50L2.64 -9.50L3.16 -10.00L4.22 -10.50L6.32 -10.50L7.38 -10.00L7.91 -9.50L8.43 -8.50L8.43 -7.50L7.91 -6.50L6.85 -5.00L1.58 -0.00L8.96 -0.00M15.28 -10.50L13.70 -10.00L12.65 -8.50L12.12 -6.00L12.12 -4.50L12.65 -2.00L13.70 -0.50L15.28 -0.00L16.34 -0.00L17.92 -0.50L18.97 -2.00L19.50 -4.50L19.50 -6.00L18.97 -8.50L17.92 -10.00L16.34 -10.50L15.28 -10.50"/>
<path transform="translate(216.70 500.60)" d="M9.03 -10.26L7.97 -11.40L6.37 -11.97L4.25 -11.97L2.66 -11.40L1.59 -10.26L1.59 -9.12L2.12 -7.98L2.66 -7.41L3.72 -6.84L6.90 -5.70L7.97 -5.13L8.50 -4.56L9.03 -3.42L9.03 -1.71L7.97 -0.57L6.37 -0.00L4.25 -0.00L2.66 -0.57L1.59 -1.71M12.21 -4.56L18.59 -4.56L18.59 -5.70L18.05 -6.84L17.52 -7.41L16.46 -7.98L14.87 -7.98L13.81 -7.41L12.74 -6.27L12.21 -4.56L12.21 -3.42L12.74 -1.71L13.81 -0.57L14.87 -0.00L16.46 -0.00L17.52 -0.57L18.59 -1.71M22.30 -7.98L22.30 3.99M22.30 -6.27L23.36 -7.41L24.43 -7.98L26.02 -7.98L27.08 -7.41L28.14 -6.27L28.67 -4.56L28.67 -3.42L28.14 -1.71L27.08 -0.57L26.02 -0.00L24.43 -0.00L23.36 -0.57L22.30 -1.71M38.23 -7.98L38.23 -0.00M38.23 -6.27L37.17 -7.41L36.11 -7.98L34.52 -7.98L33.45 -7.41L32.39 -6.27L31.86 -4.56L31.86 -3.42L32.39 -1.71L33.45 -0.57L34.52 -0.00L36.11 -0.00L37.17 -0.57L38.23 -1.71M42.48 -7.98L42.48 -0.00M42.48 -4.56L43.01 -6.27L44.07 -7.41L45.14 -7.98L46.73 -7.98M55.22 -7.98L55.22 -0.00M55.22 -6.27L54.16 -7.41L53.10 -7.98L51.51 -7.98L50.45 -7.41L49.38 -6.27L48.85 -4.56L48.85 -3.42L49.38 -1.71L50.45 -0.57L51.51 -0.00L53.10 -0.00L54.16 -0.57L55.22 -1.71M60.00 -11.97L60.00 -2.28L60.53 -0.57L61.60 -0.00L62.66 -0.00M58.41 -7.98L62.13 -7.98M65.31 -11.97L65.84 -11.40L66.38 -11.97L65.84 -12.54L65.31 -11.97M65.84 -7.98L65.84 -0.00M72.22 -7.98L71.15 -7.41L70.09 -6.27L69.56 -4.56L69.56 -3.42L70.09 -1.71L71.15 -0.57L72.22 -0.00L73.81 -0.00L74.87 -0.57L75.93 -1.71L76.46 -3.42L76.46 -4.56L75.93 -6.27L74.87 -7.41L73.81 -7.98L72.22 -7.98M80.18 -7.98L80.18 -0.00M80.18 -5.70L81.77 -7.41L82.84 -7.98L84.43 -7.98L85.49 -7.41L86.02 -5.70L86.02 -0.00M91.33 -0.57L90.80 -0.00L90.27 -0.57L90.80 -1.14L91.33 -0.57L91.33 0.57L90.80 1.71L90.27 2.28M109.92 -7.98L109.92 -0.00M109.92 -6.27L108.86 -7.41L107.79 -7.98L106.20 -7.98L105.14 -7.41L104.08 -6.27L103.55 -4.56L103.55 -3.42L104.08 -1.71L105.14 -0.57L106.20 -0.00L107.79 -0.00L108.86 -0.57L109.92 -1.71M114.17 -7.98L114.17 -0.00M114.17 -4.56L114.70 -6.27L115.76 -7.41L116.82 -7.98L118.41 -7.98M126.91 -6.27L125.85 -7.41L124.79 -7.98L123.19 -7.98L122.13 -7.41L121.07 -6.27L120.54 -4.56L120.54 -3.42L121.07 -1.71L122.13 -0.57L123.19 -0.00L124.79 -0.00L125.85 -0.57L126.91 -1.71M135.94 -6.27L135.41 -7.41L133.81 -7.98L132.22 -7.98L130.63 -7.41L130.09 -6.27L130.63 -5.13L131.69 -4.56L134.34 -3.99L135.41 -3.42L135.94 -2.28L135.94 -1.71L135.41 -0.57L133.81 -0.00L132.22 -0.00L130.63 -0.57L130.09 -1.71M139.12 -4.56L145.49 -4.56L145.49 -5.70L144.96 -6.84L144.43 -7.41L143.37 -7.98L141.78 -7.98L140.72 -7.41L139.65 -6.27L139.12 -4.56L139.12 -3.42L139.65 -1.71L140.72 -0.57L141.78 -0.00L143.37 -0.00L144.43 -0.57L145.49 -1.71M155.05 -6.27L153.99 -7.41L152.93 -7.98L151.34 -7.98L150.27 -7.41L149.21 -6.27L148.68 -4.56L148.68 -3.42L149.21 -1.71L150.27 -0.57L151.34 -0.00L152.93 -0.00L153.99 -0.57L155.05 -1.71"/>
<path transform="translate(20.60 386.20) rotate(-90)" d="M4.73 -11.34L0.53 -0.00M4.73 -11.34L8.94 -0.00M2.10 -3.78L7.36 -3.78M10.52 -7.56L13.68 -0.00M16.83 -7.56L13.68 -0.00M19.46 -4.32L25.77 -4.32L25.77 -5.40L25.25 -6.48L24.72 -7.02L23.67 -7.56L22.09 -7.56L21.04 -7.02L19.99 -5.94L19.46 -4.32L19.46 -3.24L19.99 -1.62L21.04 -0.54L22.09 -0.00L23.67 -0.00L24.72 -0.54L25.77 -1.62M29.46 -7.56L29.46 -0.00M29.46 -4.32L29.98 -5.94L31.03 -7.02L32.09 -7.56L33.66 -7.56M42.08 -7.56L42.08 -0.00M42.08 -5.94L41.03 -7.02L39.98 -7.56L38.40 -7.56L37.35 -7.02L36.29 -5.94L35.77 -4.32L35.77 -3.24L36.29 -1.62L37.35 -0.54L38.40 -0.00L39.98 -0.00L41.03 -0.54L42.08 -1.62M52.07 -7.56L52.07 1.08L51.55 2.70L51.02 3.24L49.97 3.78L48.39 3.78L47.34 3.24M52.07 -5.94L51.02 -7.02L49.97 -7.56L48.39 -7.56L47.34 -7.02L46.29 -5.94L45.76 -4.32L45.76 -3.24L46.29 -1.62L47.34 -0.54L48.39 -0.00L49.97 -0.00L51.02 -0.54L52.07 -1.62M55.76 -4.32L62.07 -4.32L62.07 -5.40L61.54 -6.48L61.02 -7.02L59.96 -7.56L58.39 -7.56L57.33 -7.02L56.28 -5.94L55.76 -4.32L55.76 -3.24L56.28 -1.62L57.33 -0.54L58.39 -0.00L59.96 -0.00L61.02 -0.54L62.07 -1.62M73.64 -4.32L79.95 -4.32L79.95 -5.40L79.43 -6.48L78.90 -7.02L77.85 -7.56L76.27 -7.56L75.22 -7.02L74.17 -5.94L73.64 -4.32L73.64 -3.24L74.17 -1.62L75.22 -0.54L76.27 -0.00L77.85 -0.00L78.90 -0.54L79.95 -1.62M83.11 -7.56L88.89 -0.00M88.89 -7.56L83.11 -0.00M98.36 -5.94L97.31 -7.02L96.26 -7.56L94.68 -7.56L93.63 -7.02L92.58 -5.94L92.05 -4.32L92.05 -3.24L92.58 -1.62L93.63 -0.54L94.68 -0.00L96.26 -0.00L97.31 -0.54L98.36 -1.62M101.52 -4.32L107.83 -4.32L107.83 -5.40L107.30 -6.48L106.78 -7.02L105.73 -7.56L104.15 -7.56L103.10 -7.02L102.04 -5.94L101.52 -4.32L101.52 -3.24L102.04 -1.62L103.10 -0.54L104.15 -0.00L105.73 -0.00L106.78 -0.54L107.83 -1.62M116.77 -5.94L116.25 -7.02L114.67 -7.56L113.09 -7.56L111.51 -7.02L110.99 -5.94L111.51 -4.86L112.56 -4.32L115.19 -3.78L116.25 -3.24L116.77 -2.16L116.77 -1.62L116.25 -0.54L114.67 -0.00L113.09 -0.00L111.51 -0.54L110.99 -1.62M125.71 -5.94L125.19 -7.02L123.61 -7.56L122.03 -7.56L120.45 -7.02L119.93 -5.94L120.45 -4.86L121.51 -4.32L124.14 -3.78L125.19 -3.24L125.71 -2.16L125.71 -1.62L125.19 -0.54L123.61 -0.00L122.03 -0.00L120.45 -0.54L119.93 -1.62M137.81 -7.56L137.81 3.78M137.81 -5.94L138.86 -7.02L139.92 -7.56L141.49 -7.56L142.55 -7.02L143.60 -5.94L144.12 -4.32L144.12 -3.24L143.60 -1.62L142.55 -0.54L141.49 -0.00L139.92 -0.00L138.86 -0.54L137.81 -1.62M147.28 -4.32L153.59 -4.32L153.59 -5.40L153.07 -6.48L152.54 -7.02L151.49 -7.56L149.91 -7.56L148.86 -7.02L147.81 -5.94L147.28 -4.32L147.28 -3.24L147.81 -1.62L148.86 -0.54L149.91 -0.00L151.49 -0.00L152.54 -0.54L153.59 -1.62M157.27 -7.56L157.27 -0.00M157.27 -4.32L157.80 -5.94L158.85 -7.02L159.90 -7.56L161.48 -7.56M179.37 -9.72L178.31 -10.80L176.74 -11.34L174.63 -11.34L173.05 -10.80L172.00 -9.72L172.00 -8.64L172.53 -7.56L173.05 -7.02L174.11 -6.48L177.26 -5.40L178.31 -4.86L178.84 -4.32L179.37 -3.24L179.37 -1.62L178.31 -0.54L176.74 -0.00L174.63 -0.00L173.05 -0.54L172.00 -1.62M183.05 -11.34L183.05 -0.00M183.05 -11.34L187.78 -11.34L189.36 -10.80L189.89 -10.26L190.41 -9.18L190.41 -7.56L189.89 -6.48L189.36 -5.94L187.78 -5.40L183.05 -5.40M194.09 -11.34L194.09 -0.00M198.30 -11.34L198.30 -0.00M198.30 -11.34L203.04 -11.34L204.61 -10.80L205.14 -10.26L205.67 -9.18L205.67 -8.10L205.14 -7.02L204.61 -6.48L203.04 -5.94L198.30 -5.94M201.98 -5.94L205.67 -0.00M209.35 -11.34L209.35 -0.00M209.35 -11.34L216.19 -11.34M209.35 -5.94L213.56 -5.94M209.35 -0.00L216.19 -0.00M233.02 -5.94L232.49 -7.02L230.91 -7.56L229.34 -7.56L227.76 -7.02L227.23 -5.94L227.76 -4.86L228.81 -4.32L231.44 -3.78L232.49 -3.24L233.02 -2.16L233.02 -1.62L232.49 -0.54L230.91 -0.00L229.34 -0.00L227.76 -0.54L227.23 -1.62M238.80 -7.56L237.75 -7.02L236.70 -5.94L236.17 -4.32L236.17 -3.24L236.70 -1.62L237.75 -0.54L238.80 -0.00L240.38 -0.00L241.43 -0.54L242.49 -1.62L243.01 -3.24L243.01 -4.32L242.49 -5.94L241.43 -7.02L240.38 -7.56L238.80 -7.56M246.69 -7.56L246.69 -2.16L247.22 -0.54L248.27 -0.00L249.85 -0.00L250.90 -0.54L252.48 -2.16M252.48 -7.56L252.48 -0.00M256.69 -7.56L256.69 -0.00M256.69 -4.32L257.21 -5.94L258.27 -7.02L259.32 -7.56L260.90 -7.56M269.31 -5.94L268.26 -7.02L267.21 -7.56L265.63 -7.56L264.58 -7.02L263.53 -5.94L263.00 -4.32L263.00 -3.24L263.53 -1.62L264.58 -0.54L265.63 -0.00L267.21 -0.00L268.26 -0.54L269.31 -1.62M272.47 -4.32L278.78 -4.32L278.78 -5.40L278.25 -6.48L277.73 -7.02L276.68 -7.56L275.10 -7.56L274.05 -7.02L272.99 -5.94L272.47 -4.32L272.47 -3.24L272.99 -1.62L274.05 -0.54L275.10 -0.00L276.68 -0.00L277.73 -0.54L278.78 -1.62"/>
<path transform="translate(528.40 231.40) rotate(-90)" d="M2.26 -12.81L2.26 -0.00M2.26 -12.81L7.34 -12.81L9.04 -12.20L9.60 -11.59L10.17 -10.37L10.17 -9.15L9.60 -7.93L9.04 -7.32L7.34 -6.71M2.26 -6.71L7.34 -6.71L9.04 -6.10L9.60 -5.49L10.17 -4.27L10.17 -2.44L9.60 -1.22L9.04 -0.61L7.34 -0.00L2.26 -0.00M14.12 -12.81L14.12 -0.00M18.64 -8.54L18.64 -2.44L19.21 -0.61L20.34 -0.00L22.03 -0.00L23.16 -0.61L24.86 -2.44M24.86 -8.54L24.86 -0.00M28.81 -4.88L35.59 -4.88L35.59 -6.10L35.03 -7.32L34.46 -7.93L33.33 -8.54L31.64 -8.54L30.51 -7.93L29.38 -6.71L28.81 -4.88L28.81 -3.66L29.38 -1.83L30.51 -0.61L31.64 -0.00L33.33 -0.00L34.46 -0.61L35.59 -1.83M40.11 -8.54L39.55 -7.93L40.11 -7.32L40.68 -7.93L40.11 -8.54M40.11 -1.22L39.55 -0.61L40.11 -0.00L40.68 -0.61L40.11 -1.22"/>
<path transform="translate(528.40 177.40) rotate(-90)" d="M3.39 -10.37L4.52 -10.98L6.21 -12.81L6.21 -0.00M14.12 -1.22L13.56 -0.61L14.12 -0.00L14.69 -0.61L14.12 -1.22M21.47 -12.81L19.77 -12.20L19.21 -10.98L19.21 -9.76L19.77 -8.54L20.90 -7.93L23.16 -7.32L24.86 -6.71L25.99 -5.49L26.55 -4.27L26.55 -2.44L25.99 -1.22L25.42 -0.61L23.73 -0.00L21.47 -0.00L19.77 -0.61L19.21 -1.22L18.64 -2.44L18.64 -4.27L19.21 -5.49L20.34 -6.71L22.03 -7.32L24.29 -7.93L25.42 -8.54L25.99 -9.76L25.99 -10.98L25.42 -12.20L23.73 -12.81L21.47 -12.81M39.55 -10.98L30.51 -5.49L39.55 -0.00"/>
<path transform="translate(519.40 125.40) rotate(-90)" d="M1.39 -6.16L1.39 -6.54L1.74 -7.32L2.09 -7.70L2.78 -8.09L4.18 -8.09L4.87 -7.70L5.22 -7.32L5.57 -6.54L5.57 -5.78L5.22 -5.00L4.52 -3.85L1.04 -0.00L5.92 -0.00M12.18 -8.09L8.70 -8.09L8.35 -4.62L8.70 -5.00L9.74 -5.39L10.79 -5.39L11.83 -5.00L12.53 -4.24L12.88 -3.08L12.88 -2.31L12.53 -1.16L11.83 -0.39L10.79 -0.00L9.74 -0.00L8.70 -0.39L8.35 -0.77L8.00 -1.54M17.05 -8.09L16.01 -7.70L15.31 -6.54L14.96 -4.62L14.96 -3.46L15.31 -1.54L16.01 -0.39L17.05 -0.00L17.75 -0.00L18.79 -0.39L19.49 -1.54L19.84 -3.46L19.84 -4.62L19.49 -6.54L18.79 -7.70L17.75 -8.09L17.05 -8.09"/>
<path transform="translate(532.70 125.40) rotate(-90)" d="M1.74 -8.09L5.57 -8.09L3.48 -5.00L4.52 -5.00L5.22 -4.62L5.57 -4.24L5.92 -3.08L5.92 -2.31L5.57 -1.16L4.87 -0.39L3.83 -0.00L2.78 -0.00L1.74 -0.39L1.39 -0.77L1.04 -1.54M12.18 -8.09L8.70 -8.09L8.35 -4.62L8.70 -5.00L9.74 -5.39L10.79 -5.39L11.83 -5.00L12.53 -4.24L12.88 -3.08L12.88 -2.31L12.53 -1.16L11.83 -0.39L10.79 -0.00L9.74 -0.00L8.70 -0.39L8.35 -0.77L8.00 -1.54M17.05 -8.09L16.01 -7.70L15.31 -6.54L14.96 -4.62L14.96 -3.46L15.31 -1.54L16.01 -0.39L17.05 -0.00L17.75 -0.00L18.79 -0.39L19.49 -1.54L19.84 -3.46L19.84 -4.62L19.49 -6.54L18.79 -7.70L17.75 -8.09L17.05 -8.09"/>
<path transform="translate(528.40 98.60) rotate(-90)" d="M11.56 -10.98L2.31 -5.49L11.56 -0.00M16.76 -12.81L23.12 -12.81L19.65 -7.93L21.39 -7.93L22.54 -7.32L23.12 -6.71L23.70 -4.88L23.70 -3.66L23.12 -1.83L21.96 -0.61L20.23 -0.00L18.50 -0.00L16.76 -0.61L16.18 -1.22L15.61 -2.44M28.32 -1.22L27.74 -0.61L28.32 -0.00L28.90 -0.61L28.32 -1.22M36.41 -12.81L34.68 -12.20L33.52 -10.37L32.95 -7.32L32.95 -5.49L33.52 -2.44L34.68 -0.61L36.41 -0.00L37.57 -0.00L39.30 -0.61L40.46 -2.44L41.04 -5.49L41.04 -7.32L40.46 -10.37L39.30 -12.20L37.57 -12.81L36.41 -12.81"/>
<path transform="translate(528.40 432.60) rotate(-90)" d="M2.33 -12.81L2.33 -0.00M2.33 -12.81L7.57 -12.81L9.31 -12.20L9.89 -11.59L10.48 -10.37L10.48 -9.15L9.89 -7.93L9.31 -7.32L7.57 -6.71L2.33 -6.71M6.40 -6.71L10.48 -0.00M13.97 -4.88L20.95 -4.88L20.95 -6.10L20.37 -7.32L19.79 -7.93L18.62 -8.54L16.88 -8.54L15.71 -7.93L14.55 -6.71L13.97 -4.88L13.97 -3.66L14.55 -1.83L15.71 -0.61L16.88 -0.00L18.62 -0.00L19.79 -0.61L20.95 -1.83M31.43 -12.81L31.43 -0.00M31.43 -6.71L30.26 -7.93L29.10 -8.54L27.35 -8.54L26.19 -7.93L25.03 -6.71L24.44 -4.88L24.44 -3.66L25.03 -1.83L26.19 -0.61L27.35 -0.00L29.10 -0.00L30.26 -0.61L31.43 -1.83M36.67 -8.54L36.08 -7.93L36.67 -7.32L37.25 -7.93L36.67 -8.54M36.67 -1.22L36.08 -0.61L36.67 -0.00L37.25 -0.61L36.67 -1.22"/>
<path transform="translate(528.40 374.50) rotate(-90)" d="M5.20 -12.81L3.47 -12.20L2.31 -10.37L1.73 -7.32L1.73 -5.49L2.31 -2.44L3.47 -0.61L5.20 -0.00L6.36 -0.00L8.09 -0.61L9.25 -2.44L9.83 -5.49L9.83 -7.32L9.25 -10.37L8.09 -12.20L6.36 -12.81L5.20 -12.81M14.45 -1.22L13.87 -0.61L14.45 -0.00L15.03 -0.61L14.45 -1.22M21.96 -12.81L20.23 -12.20L19.65 -10.98L19.65 -9.76L20.23 -8.54L21.39 -7.93L23.70 -7.32L25.43 -6.71L26.59 -5.49L27.17 -4.27L27.17 -2.44L26.59 -1.22L26.01 -0.61L24.28 -0.00L21.96 -0.00L20.23 -0.61L19.65 -1.22L19.07 -2.44L19.07 -4.27L19.65 -5.49L20.81 -6.71L22.54 -7.32L24.85 -7.93L26.01 -8.54L26.59 -9.76L26.59 -10.98L26.01 -12.20L24.28 -12.81L21.96 -12.81M40.46 -10.98L31.21 -5.49L40.46 -0.00"/>
<path transform="translate(519.40 322.10) rotate(-90)" d="M1.39 -6.16L1.39 -6.54L1.74 -7.32L2.09 -7.70L2.78 -8.09L4.18 -8.09L4.87 -7.70L5.22 -7.32L5.57 -6.54L5.57 -5.78L5.22 -5.00L4.52 -3.85L1.04 -0.00L5.92 -0.00M12.18 -8.09L8.70 -8.09L8.35 -4.62L8.70 -5.00L9.74 -5.39L10.79 -5.39L11.83 -5.00L12.53 -4.24L12.88 -3.08L12.88 -2.31L12.53 -1.16L11.83 -0.39L10.79 -0.00L9.74 -0.00L8.70 -0.39L8.35 -0.77L8.00 -1.54M17.05 -8.09L16.01 -7.70L15.31 -6.54L14.96 -4.62L14.96 -3.46L15.31 -1.54L16.01 -0.39L17.05 -0.00L17.75 -0.00L18.79 -0.39L19.49 -1.54L19.84 -3.46L19.84 -4.62L19.49 -6.54L18.79 -7.70L17.75 -8.09L17.05 -8.09"/>
<path transform="translate(532.70 322.10) rotate(-90)" d="M1.74 -8.09L5.57 -8.09L3.48 -5.00L4.52 -5.00L5.22 -4.62L5.57 -4.24L5.92 -3.08L5.92 -2.31L5.57 -1.16L4.87 -0.39L3.83 -0.00L2.78 -0.00L1.74 -0.39L1.39 -0.77L1.04 -1.54M12.18 -8.09L8.70 -8.09L8.35 -4.62L8.70 -5.00L9.74 -5.39L10.79 -5.39L11.83 -5.00L12.53 -4.24L12.88 -3.08L12.88 -2.31L12.53 -1.16L11.83 -0.39L10.79 -0.00L9.74 -0.00L8.70 -0.39L8.35 -0.77L8.00 -1.54M17.05 -8.09L16.01 -7.70L15.31 -6.54L14.96 -4.62L14.96 -3.46L15.31 -1.54L16.01 -0.39L17.05 -0.00L17.75 -0.00L18.79 -0.39L19.49 -1.54L19.84 -3.46L19.84 -4.62L19.49 -6.54L18.79 -7.70L17.75 -8.09L17.05 -8.09"/>
<path transform="translate(528.40 294.60) rotate(-90)" d="M11.40 -10.98L2.28 -5.49L11.40 -0.00M17.10 -10.37L18.24 -10.98L19.95 -12.81L19.95 -0.00M27.93 -1.22L27.36 -0.61L27.93 -0.00L28.50 -0.61L27.93 -1.22M33.63 -12.81L39.90 -12.81L36.48 -7.93L38.19 -7.93L39.33 -7.32L39.90 -6.71L40.47 -4.88L40.47 -3.66L39.90 -1.83L38.76 -0.61L37.05 -0.00L35.34 -0.00L33.63 -0.61L33.06 -1.22L32.49 -2.44"/>
<path d="M522.4 103.5V125.9M522.4 300.2V322.6"/>
<path transform="translate(381.09 71.60)" d="M1.38 -6.99L1.38 -0.00M1.38 -6.99L5.88 -6.99M1.38 -3.66L4.15 -3.66M1.38 -0.00L5.88 -0.00M7.61 -4.66L11.42 -0.00M11.42 -4.66L7.61 -0.00M13.84 -4.66L13.84 2.33M13.84 -3.66L14.53 -4.33L15.22 -4.66L16.26 -4.66L16.95 -4.33L17.65 -3.66L17.99 -2.66L17.99 -2.00L17.65 -1.00L16.95 -0.33L16.26 -0.00L15.22 -0.00L14.53 -0.33L13.84 -1.00M20.07 -2.66L24.22 -2.66L24.22 -3.33L23.87 -4.00L23.53 -4.33L22.84 -4.66L21.80 -4.66L21.11 -4.33L20.41 -3.66L20.07 -2.66L20.07 -2.00L20.41 -1.00L21.11 -0.33L21.80 -0.00L22.84 -0.00L23.53 -0.33L24.22 -1.00M30.45 -3.66L29.76 -4.33L29.06 -4.66L28.03 -4.66L27.33 -4.33L26.64 -3.66L26.30 -2.66L26.30 -2.00L26.64 -1.00L27.33 -0.33L28.03 -0.00L29.06 -0.00L29.76 -0.33L30.45 -1.00M33.22 -6.99L33.22 -1.33L33.56 -0.33L34.25 -0.00L34.95 -0.00M32.18 -4.66L34.60 -4.66M36.68 -2.66L40.83 -2.66L40.83 -3.33L40.48 -4.00L40.14 -4.33L39.44 -4.66L38.41 -4.66L37.71 -4.33L37.02 -3.66L36.68 -2.66L36.68 -2.00L37.02 -1.00L37.71 -0.33L38.41 -0.00L39.44 -0.00L40.14 -0.33L40.83 -1.00M47.06 -6.99L47.06 -0.00M47.06 -3.66L46.36 -4.33L45.67 -4.66L44.63 -4.66L43.94 -4.33L43.25 -3.66L42.90 -2.66L42.90 -2.00L43.25 -1.00L43.94 -0.33L44.63 -0.00L45.67 -0.00L46.36 -0.33L47.06 -1.00M57.44 -6.99L56.74 -6.99L56.05 -6.66L55.71 -5.66L55.71 -0.00M54.67 -4.66L57.09 -4.66M61.93 -8.33L61.24 -7.66L60.55 -6.66L59.86 -5.33L59.51 -3.66L59.51 -2.33L59.86 -0.67L60.55 0.67L61.24 1.67L61.93 2.33M64.36 -4.66L64.36 -0.00M64.36 -2.66L64.70 -3.66L65.39 -4.33L66.09 -4.66L67.12 -4.66M68.51 -8.33L69.20 -7.66L69.89 -6.66L70.58 -5.33L70.93 -3.66L70.93 -2.33L70.58 -0.67L69.89 0.67L69.20 1.67L68.51 2.33"/>
<path transform="translate(378.66 83.80)" d="M1.38 -6.99L1.38 -0.00M1.38 -6.99L4.15 -0.00M6.92 -6.99L4.15 -0.00M6.92 -6.99L6.92 -0.00M9.34 -2.66L13.49 -2.66L13.49 -3.33L13.15 -4.00L12.80 -4.33L12.11 -4.66L11.07 -4.66L10.38 -4.33L9.69 -3.66L9.34 -2.66L9.34 -2.00L9.69 -1.00L10.38 -0.33L11.07 -0.00L12.11 -0.00L12.80 -0.33L13.49 -1.00M19.72 -4.66L19.72 -0.00M19.72 -3.66L19.03 -4.33L18.34 -4.66L17.30 -4.66L16.61 -4.33L15.92 -3.66L15.57 -2.66L15.57 -2.00L15.92 -1.00L16.61 -0.33L17.30 -0.00L18.34 -0.00L19.03 -0.33L19.72 -1.00M25.95 -3.66L25.60 -4.33L24.57 -4.66L23.53 -4.66L22.49 -4.33L22.14 -3.66L22.49 -3.00L23.18 -2.66L24.91 -2.33L25.60 -2.00L25.95 -1.33L25.95 -1.00L25.60 -0.33L24.57 -0.00L23.53 -0.00L22.49 -0.33L22.14 -1.00M28.37 -4.66L28.37 -1.33L28.72 -0.33L29.41 -0.00L30.45 -0.00L31.14 -0.33L32.18 -1.33M32.18 -4.66L32.18 -0.00M34.95 -4.66L34.95 -0.00M34.95 -2.66L35.29 -3.66L35.98 -4.33L36.68 -4.66L37.71 -4.66M39.10 -2.66L43.25 -2.66L43.25 -3.33L42.90 -4.00L42.56 -4.33L41.87 -4.66L40.83 -4.66L40.14 -4.33L39.44 -3.66L39.10 -2.66L39.10 -2.00L39.44 -1.00L40.14 -0.33L40.83 -0.00L41.87 -0.00L42.56 -0.33L43.25 -1.00M49.48 -6.99L49.48 -0.00M49.48 -3.66L48.79 -4.33L48.09 -4.66L47.06 -4.66L46.36 -4.33L45.67 -3.66L45.33 -2.66L45.33 -2.00L45.67 -1.00L46.36 -0.33L47.06 -0.00L48.09 -0.00L48.79 -0.33L49.48 -1.00M59.86 -6.99L59.17 -6.99L58.47 -6.66L58.13 -5.66L58.13 -0.00M57.09 -4.66L59.51 -4.66M64.36 -8.33L63.66 -7.66L62.97 -6.66L62.28 -5.33L61.93 -3.66L61.93 -2.33L62.28 -0.67L62.97 0.67L63.66 1.67L64.36 2.33M66.78 -4.66L66.78 -0.00M66.78 -2.66L67.12 -3.66L67.82 -4.33L68.51 -4.66L69.55 -4.66M70.93 -8.33L71.62 -7.66L72.31 -6.66L73.01 -5.33L73.35 -3.66L73.35 -2.33L73.01 -0.67L72.31 0.67L71.62 1.67L70.93 2.33"/>
<path transform="translate(373.13 96.40)" d="M6.23 -5.33L5.88 -5.99L5.19 -6.66L4.50 -6.99L3.11 -6.99L2.42 -6.66L1.73 -5.99L1.38 -5.33L1.04 -4.33L1.04 -2.66L1.38 -1.67L1.73 -1.00L2.42 -0.33L3.11 -0.00L4.50 -0.00L5.19 -0.33L5.88 -1.00L6.23 -1.67M8.65 -6.99L8.65 -0.00M11.42 -4.66L11.42 -1.33L11.76 -0.33L12.46 -0.00L13.49 -0.00L14.19 -0.33L15.22 -1.33M15.22 -4.66L15.22 -0.00M21.45 -3.66L21.11 -4.33L20.07 -4.66L19.03 -4.66L17.99 -4.33L17.65 -3.66L17.99 -3.00L18.68 -2.66L20.41 -2.33L21.11 -2.00L21.45 -1.33L21.45 -1.00L21.11 -0.33L20.07 -0.00L19.03 -0.00L17.99 -0.33L17.65 -1.00M24.22 -6.99L24.22 -1.33L24.57 -0.33L25.26 -0.00L25.95 -0.00M23.18 -4.66L25.60 -4.66M27.68 -2.66L31.83 -2.66L31.83 -3.33L31.49 -4.00L31.14 -4.33L30.45 -4.66L29.41 -4.66L28.72 -4.33L28.03 -3.66L27.68 -2.66L27.68 -2.00L28.03 -1.00L28.72 -0.33L29.41 -0.00L30.45 -0.00L31.14 -0.33L31.83 -1.00M34.25 -4.66L34.25 -0.00M34.25 -2.66L34.60 -3.66L35.29 -4.33L35.98 -4.66L37.02 -4.66M44.29 -6.99L44.29 -0.00M46.71 -2.66L50.86 -2.66L50.86 -3.33L50.52 -4.00L50.17 -4.33L49.48 -4.66L48.44 -4.66L47.75 -4.33L47.06 -3.66L46.71 -2.66L46.71 -2.00L47.06 -1.00L47.75 -0.33L48.44 -0.00L49.48 -0.00L50.17 -0.33L50.86 -1.00M53.28 -4.66L53.28 -0.00M53.28 -3.33L54.32 -4.33L55.01 -4.66L56.05 -4.66L56.74 -4.33L57.09 -3.33L57.09 -0.00M63.32 -3.66L62.97 -4.33L61.93 -4.66L60.90 -4.66L59.86 -4.33L59.51 -3.66L59.86 -3.00L60.55 -2.66L62.28 -2.33L62.97 -2.00L63.32 -1.33L63.32 -1.00L62.97 -0.33L61.93 -0.00L60.90 -0.00L59.86 -0.33L59.51 -1.00M65.39 -6.99L65.74 -6.66L66.09 -6.99L65.74 -7.33L65.39 -6.99M65.74 -4.66L65.74 -0.00M68.51 -4.66L68.51 -0.00M68.51 -3.33L69.55 -4.33L70.24 -4.66L71.28 -4.66L71.97 -4.33L72.31 -3.33L72.31 -0.00M78.89 -4.66L78.89 0.67L78.54 1.67L78.20 2.00L77.50 2.33L76.47 2.33L75.77 2.00M78.89 -3.66L78.20 -4.33L77.50 -4.66L76.47 -4.66L75.77 -4.33L75.08 -3.66L74.74 -2.66L74.74 -2.00L75.08 -1.00L75.77 -0.33L76.47 -0.00L77.50 -0.00L78.20 -0.33L78.89 -1.00"/>
<path transform="translate(375.90 108.40)" d="M6.23 -5.33L5.88 -5.99L5.19 -6.66L4.50 -6.99L3.11 -6.99L2.42 -6.66L1.73 -5.99L1.38 -5.33L1.04 -4.33L1.04 -2.66L1.38 -1.67L1.73 -1.00L2.42 -0.33L3.11 -0.00L4.50 -0.00L5.19 -0.33L5.88 -1.00L6.23 -1.67L6.23 -2.66M4.50 -2.66L6.23 -2.66M12.46 -4.66L12.46 -0.00M12.46 -3.66L11.76 -4.33L11.07 -4.66L10.03 -4.66L9.34 -4.33L8.65 -3.66L8.30 -2.66L8.30 -2.00L8.65 -1.00L9.34 -0.33L10.03 -0.00L11.07 -0.00L11.76 -0.33L12.46 -1.00M15.22 -6.99L15.22 -0.00M21.80 -4.66L21.80 -0.00M21.80 -3.66L21.11 -4.33L20.41 -4.66L19.38 -4.66L18.68 -4.33L17.99 -3.66L17.65 -2.66L17.65 -2.00L17.99 -1.00L18.68 -0.33L19.38 -0.00L20.41 -0.00L21.11 -0.33L21.80 -1.00M24.22 -4.66L28.03 -0.00M28.03 -4.66L24.22 -0.00M29.76 -4.66L31.83 -0.00M33.91 -4.66L31.83 -0.00L31.14 1.33L30.45 2.00L29.76 2.33L29.41 2.33M41.52 -6.99L41.52 -0.00M43.94 -2.66L48.09 -2.66L48.09 -3.33L47.75 -4.00L47.40 -4.33L46.71 -4.66L45.67 -4.66L44.98 -4.33L44.29 -3.66L43.94 -2.66L43.94 -2.00L44.29 -1.00L44.98 -0.33L45.67 -0.00L46.71 -0.00L47.40 -0.33L48.09 -1.00M50.52 -4.66L50.52 -0.00M50.52 -3.33L51.55 -4.33L52.25 -4.66L53.28 -4.66L53.98 -4.33L54.32 -3.33L54.32 -0.00M60.55 -3.66L60.20 -4.33L59.17 -4.66L58.13 -4.66L57.09 -4.33L56.74 -3.66L57.09 -3.00L57.78 -2.66L59.51 -2.33L60.20 -2.00L60.55 -1.33L60.55 -1.00L60.20 -0.33L59.17 -0.00L58.13 -0.00L57.09 -0.33L56.74 -1.00M62.63 -6.99L62.97 -6.66L63.32 -6.99L62.97 -7.33L62.63 -6.99M62.97 -4.66L62.97 -0.00M65.74 -4.66L65.74 -0.00M65.74 -3.33L66.78 -4.33L67.47 -4.66L68.51 -4.66L69.20 -4.33L69.55 -3.33L69.55 -0.00M76.12 -4.66L76.12 0.67L75.77 1.67L75.43 2.00L74.74 2.33L73.70 2.33L73.01 2.00M76.12 -3.66L75.43 -4.33L74.74 -4.66L73.70 -4.66L73.01 -4.33L72.31 -3.66L71.97 -2.66L71.97 -2.00L72.31 -1.00L73.01 -0.33L73.70 -0.00L74.74 -0.00L75.43 -0.33L76.12 -1.00"/>
</g>
<path d="M460.2 68.7H481" stroke="#00b2ee" stroke-width="2.7" stroke-dasharray="1 2.15" stroke-dashoffset="-0.6" fill="none"/>
<path d="M460.2 81.1H481" stroke="#00b2ee" stroke-width="2.4" stroke-dasharray="4.7 4.3" fill="none"/>
<path d="M460.2 93.3H481" stroke="#ff3000" stroke-width="1.7" stroke-dasharray="9.3 4.2" fill="none"/>
<path d="M460.2 105.7H481" stroke="#00ee00" stroke-width="1.9" fill="none"/>
</svg>
</body></html>
